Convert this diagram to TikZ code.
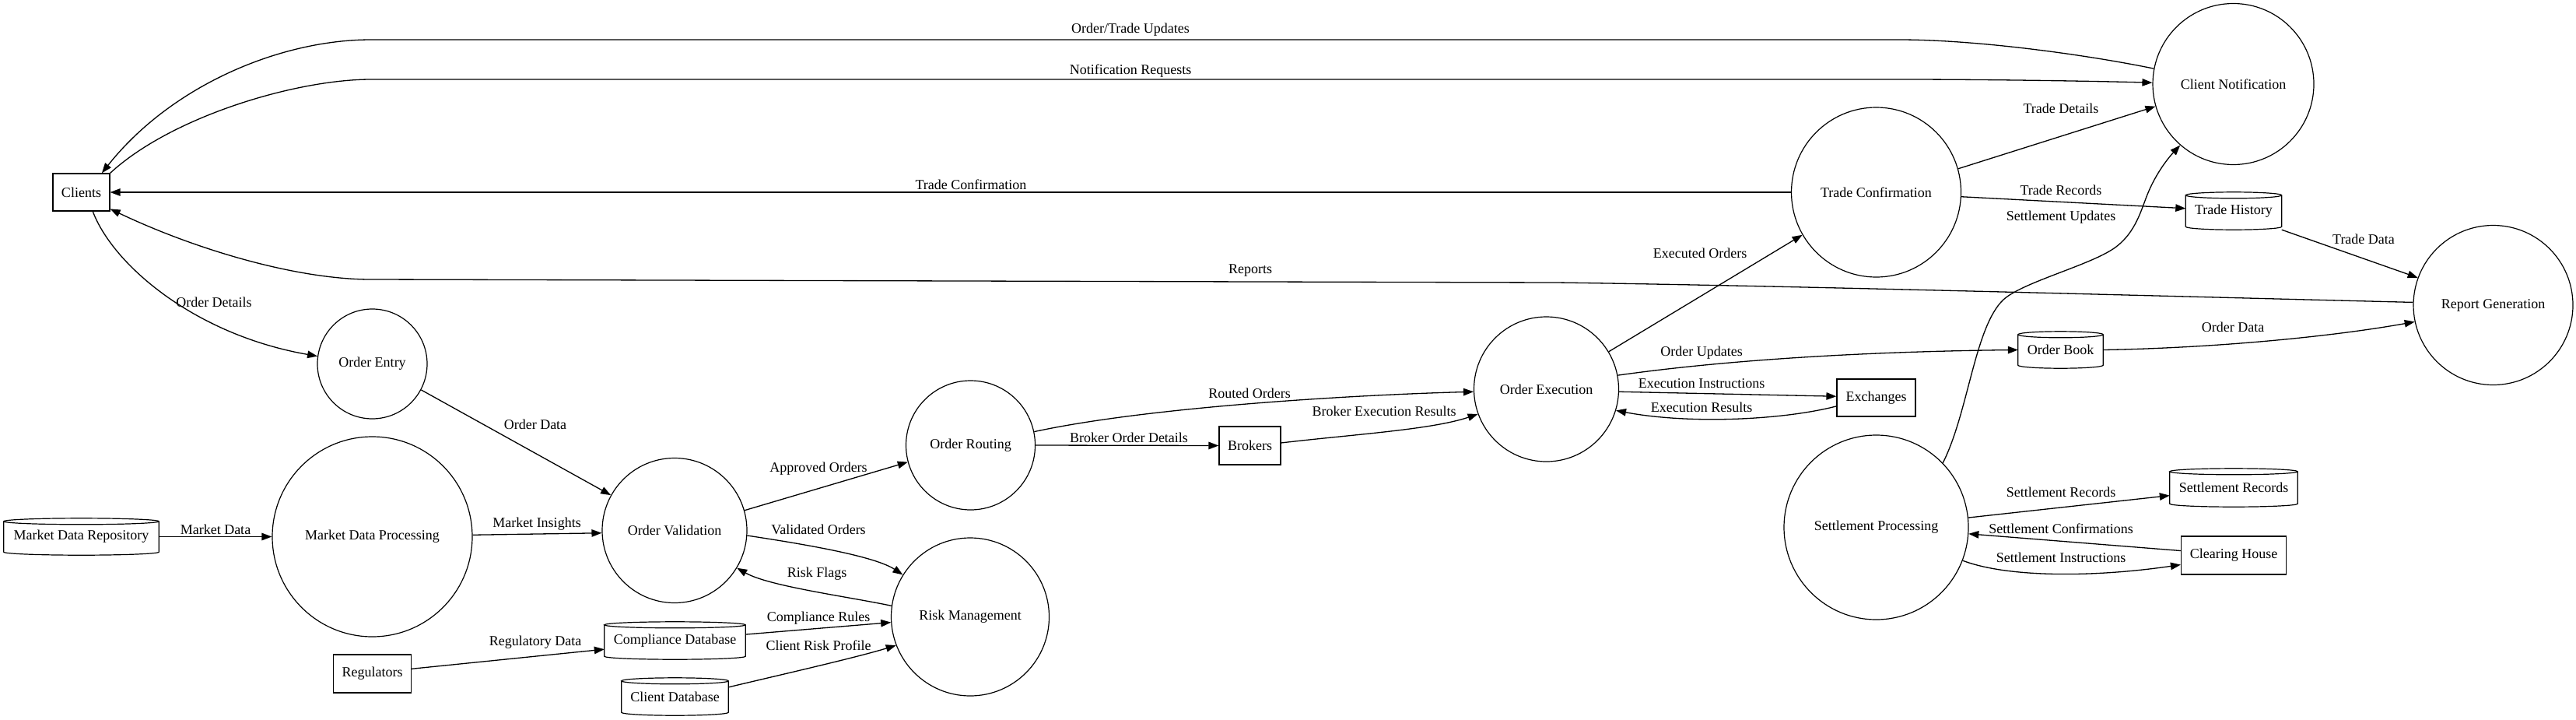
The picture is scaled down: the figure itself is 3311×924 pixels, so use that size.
\documentclass[tikz,border=0pt]{standalone}
\usepackage{fontspec}
\setmainfont{Liberation Serif}
\usetikzlibrary{arrows.meta,calc}
\newcommand\cylinderoutline[1]{%
  \draw[line width=1.2pt] let \p1=(#1.north west), \p2=(#1.south east), \n1={(\x2-\x1)/2} in
   (\x1,\y1-4pt) -- (\x1,\y2+4pt) arc[start angle=180,end angle=360,x radius=\n1,y radius=4pt]
   -- (\x2,\y1-4pt) arc[start angle=0,end angle=360,x radius=\n1,y radius=4pt];}
\begin{document}
\begin{tikzpicture}[x=1pt,y=-1pt,
  every node/.style={font=\fontsize{18}{22}\selectfont},
  proc/.style={circle,draw,line width=1.2pt,minimum size=#1,inner sep=0pt},
  ent/.style 2 args={rectangle,draw,line width=1.2pt,minimum width=#1,minimum height=#2,inner sep=0pt},
  store/.style 2 args={rectangle,minimum width=#1,minimum height=#2,inner sep=0pt},
  lbl/.style={inner sep=1pt},
  flow/.style={line width=1.3pt,-{Triangle[length=13pt,width=9.5pt]}}]
\useasboundingbox (0,0) rectangle (3311,924);
% processes
\node[proc=141pt] (oentry) at (478.5,467.5) {Order Entry};
\node[proc=257pt] (mdp) at (478.5,689.5) {Market Data Processing};
\node[proc=186pt] (oval) at (867,681.5) {Order Validation};
\node[proc=166pt] (orout) at (1247.5,572) {Order Routing};
\node[proc=203pt] (risk) at (1247,792.5) {Risk Management};
\node[proc=186pt] (oexec) at (1987.5,500) {Order Execution};
\node[proc=237pt] (settle) at (2411.5,677.5) {Settlement Processing};
\node[proc=207pt] (cnotif) at (2870.5,108) {Client Notification};
\node[proc=218pt] (tconf) at (2411.5,247) {Trade Confirmation};
\node[proc=205pt] (report) at (3204.5,392) {Report Generation};
% entities
\node[ent={73pt}{48pt}] (clients) at (104.5,247) {Clients};
\node[ent={100pt}{49pt}] (regs) at (478.5,865.5) {Regulators};
\node[ent={79pt}{49pt}] (brokers) at (1606.5,572.5) {Brokers};
\node[ent={101pt}{48pt}] (exch) at (2411.5,511) {Exchanges};
\node[ent={135pt}{49pt}] (clear) at (2871,713.5) {Clearing House};
% stores
\node[store={199pt}{47pt}] (mdr) at (104.5,689.5) {Market Data Repository};
\node[store={181pt}{48pt}] (compdb) at (867.5,823) {Compliance Database};
\node[store={137pt}{48pt}] (clidb) at (867.5,895) {Client Database};
\node[store={164pt}{49pt}] (setrec) at (2871,626.5) {Settlement Records};
\node[store={123pt}{48pt}] (thist) at (2871,271) {Trade History};
\node[store={109pt}{47pt}] (obook) at (2648.5,449.5) {Order Book};
\cylinderoutline{mdr}
\cylinderoutline{compdb}
\cylinderoutline{clidb}
\cylinderoutline{setrec}
\cylinderoutline{thist}
\cylinderoutline{obook}
% flows
\draw[flow] (cnotif.169) .. controls (2680,70) and (2540,51) .. (2441,51) -- (477,51) .. controls (360,51) and (220,110) .. (clients.43);
\draw[flow] (clients.north east) .. controls (220,150) and (380,102) .. (477,102) -- (2441,102) .. controls (2550,102) and (2680,104) .. (cnotif.179);
\draw[flow] (tconf.west) -- (clients.east);
\draw[flow] (report.178) .. controls (2800,381) and (2300,367) .. (2000,363) -- (477,359) .. controls (380,359) and (250,320) .. (clients.-30);
\draw[flow] (clients.-59) .. controls (145,340) and (250,430) .. (oentry.172);
\draw[flow] (oentry.-28) -- (oval.151);
\draw[flow] (mdr.east) -- (mdp.west);
\draw[flow] (mdp.1) -- (oval.182);
\draw[flow] (oval.16) -- (orout.195);
\draw[flow] (oval.-4) .. controls (1040,700) and (1125,715) .. (risk.148);
\draw[flow] (risk.172) .. controls (1087,766) and (988,753) .. (oval.-31);
\draw[flow] (regs.7) -- (compdb.187);
\draw[flow] (compdb.5) -- (risk.184);
\draw[flow] (clidb.10) .. controls (990,870) and (1100,845) .. (risk.201);
\draw[flow] (orout.12) .. controls (1480,522) and (1750,507) .. (oexec.182);
\draw[flow] (orout.east) -- (brokers.west);
\draw[flow] (brokers.5) .. controls (1740,558) and (1840,552) .. (oexec.200);
\draw[flow] (oexec.31.6) -- (tconf.210.2);
\draw[flow] (oexec.11) .. controls (2250,458) and (2450,451) .. (obook.west);
\draw[flow] (oexec.-2) -- (exch.178);
\draw[flow] (exch.192) .. controls (2290,540) and (2170,545) .. (oexec.-17);
\draw[flow] (tconf.16.9) -- (cnotif.196.6);
\draw[flow] (tconf.-3) -- (thist.177);
\draw[flow] (settle.44) .. controls (2530,530) and (2538,420) .. (2575,385) .. controls (2600,362) and (2690,340) .. (2720,317) .. controls (2745,298) and (2752,270) .. (2760,250) .. controls (2770,225) and (2785,205) .. (cnotif.229);
\draw[flow] (thist.south east) -- (report.160);
\draw[flow] (obook.east) .. controls (2850,447) and (3000,432) .. (report.192);
\draw[flow] (settle.6.5) -- (setrec.187);
\draw[flow] (clear.175) -- (settle.-4.6);
\draw[flow] (settle.-21) .. controls (2580,742) and (2690,742) .. (clear.190);
% labels
\node[lbl] (l1) at (1453,38) {Order/Trade Updates};
\node[lbl] (l2) at (1453,91) {Notification Requests};
\node[lbl] (l3) at (1248,237) {Trade Confirmation};
\node[lbl] (l4) at (1607,348) {Reports};
\node[lbl] (l5) at (275,388) {Order Details};
\node[lbl] (l6) at (688,545) {Order Data};
\node[lbl] (l7) at (277,680) {Market Data};
\node[lbl] (l8) at (690,673) {Market Insights};
\node[lbl] (l9) at (1052,602) {Approved Orders};
\node[lbl] (l10) at (1052,680) {Validated Orders};
\node[lbl] (l11) at (1050,737) {Risk Flags};
\node[lbl] (l12) at (688,825) {Regulatory Data};
\node[lbl] (l13) at (1052,794) {Compliance Rules};
\node[lbl] (l14) at (1052,829) {Client Risk Profile};
\node[lbl] (l15) at (1606,505) {Routed Orders};
\node[lbl] (l16) at (1451,562) {Broker Order Details};
\node[lbl] (l17) at (1779,528) {Broker Execution Results};
\node[lbl] (l18) at (2185,325) {Executed Orders};
\node[lbl] (l19) at (2187,453) {Order Updates};
\node[lbl] (l20) at (2187,493) {Execution Instructions};
\node[lbl] (l21) at (2187,523) {Execution Results};
\node[lbl] (l22) at (2649,139) {Trade Details};
\node[lbl] (l23) at (2649,244) {Trade Records};
\node[lbl] (l24) at (2649,279) {Settlement Updates};
\node[lbl] (l25) at (3038,307) {Trade Data};
\node[lbl] (l26) at (2870,420) {Order Data};
\node[lbl] (l27) at (2649,632) {Settlement Records};
\node[lbl] (l28) at (2649,679) {Settlement Confirmations};
\node[lbl] (l29) at (2649,716) {Settlement Instructions};
\end{tikzpicture}
\end{document}
